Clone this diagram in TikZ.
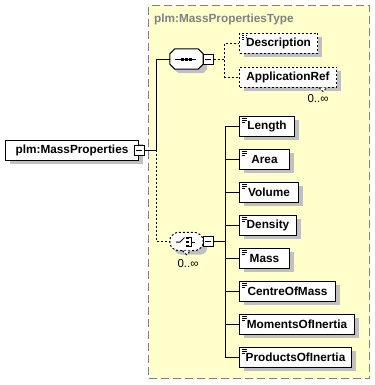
\documentclass[tikz,border=0pt]{standalone}
\usepackage{fontspec}
\setmainfont{Liberation Sans}
\usetikzlibrary{calc,shadows}
\definecolor{bgyellow}{HTML}{FFFFCC}
\definecolor{shgray}{HTML}{C0C0C0}
\definecolor{bordgray}{HTML}{808080}
\newcommand{\elfont}{\fontsize{11.8bp}{13bp}\selectfont\bfseries}
\newcommand{\mufont}{\fontsize{11.5bp}{13bp}\selectfont}
\begin{document}
\begin{tikzpicture}[x=1bp,y=-1bp,
  elem/.style={draw, line width=1bp, fill=white, minimum height=20bp, inner sep=0pt,
    anchor=west, font=\elfont,
    drop shadow={shadow xshift=4bp, shadow yshift=-4bp, fill=shgray, opacity=1}},
  icon/.style={path picture={
    \draw[line width=0.8bp] ($(path picture bounding box.north west)+(2.5,2.5)$) -- ++(5,0)
      ($(path picture bounding box.north west)+(2.5,4.3)$) -- ++(5,0)
      ($(path picture bounding box.north west)+(2.5,6.1)$) -- ++(3,0);}},
  optel/.style={elem, dash pattern=on 2bp off 2bp},
  minusbox/.style={draw, line width=1bp, fill=white, minimum size=10bp, inner sep=0pt,
    path picture={\draw[line width=1bp] ($(path picture bounding box.west)+(2,0)$) -- ($(path picture bounding box.east)+(-2,0)$);}},
  comp/.style={minimum width=33bp, minimum height=20bp, inner sep=0pt},
  conn/.style={line width=1bp},
  optconn/.style={line width=1bp, dash pattern=on 2bp off 2bp},
  mult/.style={font=\mufont, inner sep=0pt}
]
\useasboundingbox (0,0) rectangle (375,385);
\fill[white] (0,0) rectangle (375,385);

% complex type box
\node[draw=bordgray, fill=bgyellow, line width=1bp, dash pattern=on 8bp off 4bp,
  minimum width=221bp, minimum height=373bp, anchor=north west, inner sep=0pt] (type) at (148,5) {};
\node[anchor=west, text=bordgray, font=\elfont, inner sep=0pt] (title) at (154,19) {plm:MassPropertiesType};

% main element
\node[elem, minimum width=133bp] (main) at (5,150) {plm:MassProperties\hspace{5bp}};
\node[minusbox] (mainm) at (main.east) {};

% sequence compositor
\node[comp] (seq) at (186.5,59) {};
\fill[shgray] ($(seq.north west)+(9,4)$) -- ($(seq.north east)+(0,4)$) -- ($(seq.north east)+(4,9)$)
  -- ($(seq.south east)+(4,0)$) -- ($(seq.south east)+(0,4)$) -- ($(seq.south west)+(9,4)$)
  -- ($(seq.south west)+(4,0)$) -- ($(seq.north west)+(4,9)$) -- cycle;
\draw[line width=1bp, fill=white] ($(seq.north west)+(5,0)$) -- ($(seq.north east)+(-5,0)$) -- ($(seq.north east)+(0,5)$)
  -- ($(seq.south east)+(0,-5)$) -- ($(seq.south east)+(-5,0)$) -- ($(seq.south west)+(5,0)$)
  -- ($(seq.south west)+(0,-5)$) -- ($(seq.north west)+(0,5)$) -- cycle;
\draw[line width=1bp] ($(seq.center)+(-11.5,0)$) -- ($(seq.center)+(9.5,0)$);
\foreach \dx in {-5.5,-1.5,2.5} \fill ($(seq.center)+(\dx,-1.5)$) rectangle ++(3,3);
\node[minusbox] (seqm) at ($(seq.east)+(5,0)$) {};

% choice compositor
\node[comp, minimum height=18bp] (cho) at (186.5,241.5) {};
\fill[shgray, rounded corners=3bp] ($(cho.north west)+(9,4)$) -- ($(cho.north east)+(0,4)$) -- ($(cho.north east)+(4,9)$)
  -- ($(cho.south east)+(4,0)$) -- ($(cho.south east)+(0,4)$) -- ($(cho.south west)+(9,4)$)
  -- ($(cho.south west)+(4,0)$) -- ($(cho.north west)+(4,9)$) -- cycle;
\draw[optconn, fill=white, rounded corners=3bp] ($(cho.north west)+(6,0)$) -- ($(cho.north east)+(-6,0)$) -- ($(cho.north east)+(0,5)$)
  -- ($(cho.south east)+(0,-5)$) -- ($(cho.south east)+(-6,0)$) -- ($(cho.south west)+(6,0)$)
  -- ($(cho.south west)+(0,-5)$) -- ($(cho.north west)+(0,5)$) -- cycle;
\draw[optconn, fill=white] ($(cho.south)+(-4,0)$) -- ($(cho.south)+(0,4)$) -- ($(cho.south)+(4,0)$);
\draw[line width=1bp] ($(cho.center)+(-10.5,0.5)$) -- ($(cho.center)+(-6.5,0.5)$) -- ($(cho.center)+(-2,-4)$);
\foreach \dy in {-5,-1,3} \fill ($(cho.center)+(-0.5,\dy)$) rectangle ++(2.5,2.5);
\draw[line width=1bp] ($(cho.center)+(2,-4)$) -- ($(cho.center)+(5,-4)$) -- ($(cho.center)+(5,5)$) -- ($(cho.center)+(2,5)$)
  ($(cho.center)+(5,0.5)$) -- ($(cho.center)+(8.5,0.5)$);
\node[minusbox] (chom) at ($(cho.east)+(5,0)$) {};
\node[mult] (chomult) at (188,264) {0..∞};

% sequence children
\node[optel, icon, minimum width=78bp] (desc) at (239,43) {Description};
\node[optel, minimum width=97bp] (appref) at (239,77) {ApplicationRef};
\draw[optconn, fill=white] ($(appref.south east)+(-18,0)$) -- ++(4,4) -- ++(4,-4);
\node[mult] (apmult) at (318,99) {0..∞};

% choice children
\node[elem, icon, minimum width=55bp] (len) at (239,126) {Length};
\node[elem, icon, minimum width=50bp] (area) at (239,159) {Area};
\node[elem, icon, minimum width=59bp] (vol) at (239,192) {Volume};
\node[elem, icon, minimum width=57bp] (dens) at (239,225) {Density};
\node[elem, icon, minimum width=50bp] (mass) at (239,258) {Mass};
\node[elem, icon, minimum width=96bp] (com) at (239,291) {CentreOfMass};
\node[elem, icon, minimum width=115bp] (moi) at (239,324) {MomentsOfInertia};
\node[elem, icon, minimum width=112bp] (poi) at (239,357) {ProductsOfInertia};

% connectors
\draw[conn] (mainm.east) -- ++(12,0) |- (seq.west);
\draw[optconn] ($(mainm.east)+(12,0)$) |- (cho.west);
\draw[optconn] (seqm.east) -- ++(11,0) |- (desc.west);
\draw[optconn] (seqm.east) -- ++(11,0) |- (appref.west);
\foreach \t in {len,area,vol,dens,mass,com,moi,poi}
  \draw[conn] (chom.east) -- ++(12,0) |- (\t.west);
\end{tikzpicture}
\end{document}
